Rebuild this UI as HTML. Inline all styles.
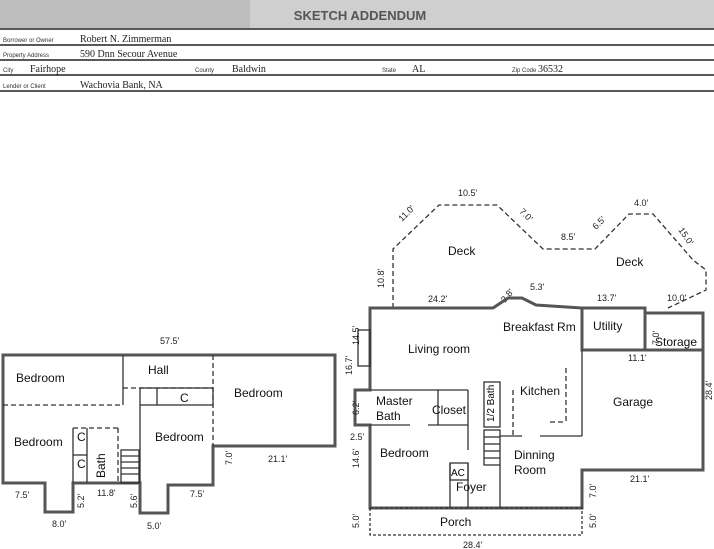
<!DOCTYPE html>
<html><head><style>
body{margin:0;background:#fff;}
svg{display:block;font-family:"Liberation Sans",sans-serif;}
.w{fill:none;stroke:#555;stroke-width:3;}
.t{fill:none;stroke:#333;stroke-width:1.3;}
.d{fill:none;stroke:#333;stroke-width:1.3;stroke-dasharray:5 3;}
.l{font-size:12px;fill:#111;}
.s{font-size:9px;fill:#222;}
.h{font-size:10px;fill:#222;font-family:"Liberation Serif",serif;}
.hs{font-size:6px;fill:#333;}
</style></head><body>
<svg width="714" height="549" viewBox="0 0 714 549">
<rect x="0" y="0" width="714" height="28" fill="#cfcfcf"/>
<rect x="0" y="0" width="250" height="28" fill="#bdbdbd"/>
<text x="360" y="20" font-size="13" font-weight="bold" fill="#555" text-anchor="middle">SKETCH ADDENDUM</text>
<g stroke="#222" stroke-width="1.5">
<line x1="0" y1="29" x2="714" y2="29"/><line x1="0" y1="45" x2="714" y2="45"/>
<line x1="0" y1="60" x2="714" y2="60"/><line x1="0" y1="75" x2="714" y2="75"/>
<line x1="0" y1="91" x2="714" y2="91"/></g>
<text x="3" y="42" class="hs">Borrower or Owner</text><text x="80" y="42" class="h">Robert N. Zimmerman</text>
<text x="3" y="57" class="hs">Property Address</text><text x="80" y="57" class="h">590 Dnn Secour Avenue</text>
<text x="3" y="72" class="hs">City</text><text x="30" y="72" class="h">Fairhope</text>
<text x="195" y="72" class="hs">County</text><text x="232" y="72" class="h">Baldwin</text>
<text x="382" y="72" class="hs">State</text><text x="412" y="72" class="h">AL</text>
<text x="512" y="72" class="hs">Zip Code</text><text x="538" y="72" class="h">36532</text>
<text x="3" y="88" class="hs">Lender or Client</text><text x="80" y="88" class="h">Wachovia Bank, NA</text>

<!-- left plan -->
<polygon class="w" points="3,355 335,355 335,446 213,446 213,485 168,485 168,513 140,513 140,483 73,483 73,512 45,512 45,483 3,483"/>
<line class="t" x1="123" y1="355" x2="123" y2="405"/>
<line class="d" x1="3" y1="405" x2="123" y2="405"/>
<line class="d" x1="213" y1="355" x2="213" y2="446"/>
<line class="d" x1="123" y1="388" x2="213" y2="388"/>
<rect class="t" x="140" y="388" width="73" height="17"/>
<line class="t" x1="157" y1="388" x2="157" y2="405"/>
<line class="t" x1="140" y1="405" x2="140" y2="483"/>
<line class="d" x1="73" y1="428" x2="118" y2="428"/>
<line class="t" x1="73" y1="428" x2="73" y2="483"/>
<line class="t" x1="87" y1="428" x2="87" y2="483"/>
<line class="d" x1="118" y1="428" x2="118" y2="483"/>
<line class="t" x1="73" y1="455" x2="87" y2="455"/>
<g class="t"><rect x="121" y="450" width="18" height="33"/>
<line x1="121" y1="456" x2="139" y2="456"/><line x1="121" y1="462" x2="139" y2="462"/><line x1="121" y1="468" x2="139" y2="468"/><line x1="121" y1="474" x2="139" y2="474"/></g>
<text x="16" y="382" class="l">Bedroom</text><text x="148" y="374" class="l">Hall</text>
<text x="234" y="397" class="l">Bedroom</text><text x="14" y="446" class="l">Bedroom</text>
<text x="155" y="441" class="l">Bedroom</text><text x="180" y="402" class="l">C</text>
<text x="77" y="441" class="l">C</text><text x="77" y="468" class="l">C</text>
<text x="105" y="478" class="l" transform="rotate(-90 105 478)">Bath</text>
<text x="160" y="344" class="s">57.5'</text><text x="268" y="462" class="s">21.1'</text>
<text x="15" y="498" class="s">7.5'</text><text x="190" y="497" class="s">7.5'</text>
<text x="97" y="496" class="s">11.8'</text><text x="52" y="527" class="s">8.0'</text>
<text x="147" y="529" class="s">5.0'</text>
<text x="84" y="508" class="s" transform="rotate(-90 84 508)">5.2'</text>
<text x="137" y="508" class="s" transform="rotate(-90 137 508)">5.6'</text>
<text x="232" y="465" class="s" transform="rotate(-90 232 465)">7.0'</text>
<text x="352" y="375" class="s" transform="rotate(-90 352 375)">16.7'</text>

<!-- deck -->
<polyline class="d" points="393,308 393,249 439,205 497,205 543,249 595,249 629,214 653,214 693,260 706,270 706,290 668,308"/>
<text x="448" y="255" class="l">Deck</text><text x="616" y="266" class="l">Deck</text>
<text x="458" y="196" class="s">10.5'</text><text x="634" y="206" class="s">4.0'</text>
<text x="561" y="240" class="s">8.5'</text><text x="428" y="302" class="s">24.2'</text>
<text x="530" y="290" class="s">5.3'</text><text x="597" y="301" class="s">13.7'</text>
<text x="667" y="301" class="s">10.0'</text>
<text x="402" y="222" class="s" transform="rotate(-45 402 222)">11.0'</text>
<text x="519" y="212" class="s" transform="rotate(45 519 212)">7.0'</text>
<text x="596" y="230" class="s" transform="rotate(-45 596 230)">6.5'</text>
<text x="678" y="230" class="s" transform="rotate(55 678 230)">15.0'</text>
<text x="505" y="303" class="s" transform="rotate(-50 505 303)">2.8'</text>
<text x="384" y="288" class="s" transform="rotate(-90 384 288)">10.8'</text>

<!-- right plan -->
<polygon class="w" points="370,308 493,308 508,298 522,298 536,305 582,308 582,350 703,350 703,470 582,470 582,508 370,508 370,425 355,425 355,390 370,390"/>
<rect class="w" x="582" y="308" width="63" height="42"/>
<rect class="w" x="645" y="313" width="58" height="37"/>
<rect class="t" x="358" y="330" width="12" height="36"/>
<rect class="t" x="370" y="508" width="212" height="27" stroke-dasharray="3 2"/>
<line class="t" x1="370" y1="390" x2="468" y2="390"/>
<line class="t" x1="370" y1="425" x2="410" y2="425"/><line class="t" x1="428" y1="425" x2="468" y2="425"/>
<line class="t" x1="438" y1="390" x2="438" y2="425"/>
<line class="t" x1="468" y1="390" x2="468" y2="450"/>
<line class="t" x1="468" y1="463" x2="468" y2="508"/>
<rect class="t" x="450" y="463" width="18" height="17"/>
<line class="t" x1="450" y1="463" x2="450" y2="508"/>
<rect class="t" x="484" y="382" width="16" height="45"/>
<g class="t"><rect x="484" y="430" width="16" height="35"/>
<line x1="484" y1="437" x2="500" y2="437"/><line x1="484" y1="444" x2="500" y2="444"/><line x1="484" y1="451" x2="500" y2="451"/><line x1="484" y1="458" x2="500" y2="458"/></g>
<line class="t" x1="500" y1="436" x2="522" y2="436"/><line class="t" x1="540" y1="436" x2="582" y2="436"/>
<line class="t" x1="500" y1="465" x2="500" y2="508"/>
<line class="d" x1="513" y1="390" x2="513" y2="436"/>
<line class="d" x1="566" y1="368" x2="566" y2="422"/><line class="d" x1="550" y1="422" x2="566" y2="422"/>
<line class="t" x1="582" y1="350" x2="582" y2="436"/>
<text x="408" y="353" class="l">Living room</text><text x="503" y="331" class="l">Breakfast Rm</text>
<text x="593" y="330" class="l">Utility</text><text x="655" y="346" class="l">Storage</text>
<text x="376" y="405" class="l">Master</text><text x="376" y="420" class="l">Bath</text>
<text x="432" y="414" class="l">Closet</text><text x="520" y="395" class="l">Kitchen</text>
<text x="613" y="406" class="l">Garage</text><text x="380" y="457" class="l">Bedroom</text>
<text x="514" y="459" class="l">Dinning</text><text x="514" y="474" class="l">Room</text>
<text x="456" y="491" class="l">Foyer</text><text x="451" y="476" font-size="10">AC</text>
<text x="440" y="526" class="l">Porch</text>
<text x="494" y="422" font-size="10" transform="rotate(-90 494 422)">1/2 Bath</text>
<text x="628" y="361" class="s">11.1'</text><text x="630" y="482" class="s">21.1'</text>
<text x="463" y="548" class="s">28.4'</text>
<text x="359" y="345" class="s" transform="rotate(-90 359 345)">14.5'</text>
<text x="359" y="415" class="s" transform="rotate(-90 359 415)">6.2'</text>
<text x="350" y="440" class="s">2.5'</text>
<text x="359" y="468" class="s" transform="rotate(-90 359 468)">14.6'</text>
<text x="359" y="528" class="s" transform="rotate(-90 359 528)">5.0'</text>
<text x="596" y="528" class="s" transform="rotate(-90 596 528)">5.0'</text>
<text x="596" y="498" class="s" transform="rotate(-90 596 498)">7.0'</text>
<text x="712" y="400" class="s" transform="rotate(-90 712 400)">28.4'</text>
<text x="659" y="345" class="s" transform="rotate(-90 659 345)">7.0'</text>
</svg>
</body></html>
